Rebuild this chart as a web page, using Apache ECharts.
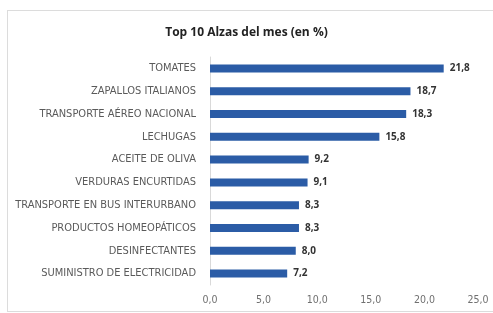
<!DOCTYPE html>
<html lang="es">
<head>
  <meta charset="UTF-8">
  <title>Top 10 Alzas del mes</title>
  <style>
    * { margin: 0; padding: 0; }
    body { width: 493px; height: 313px; background: #fff; overflow: hidden; position: relative; }
    #frame { position: absolute; left: 7px; top: 10px; width: 500px; height: 300px; border: 1px solid #dcdcdc; }
    #main { position: absolute; left: 0; top: 0; width: 493px; height: 313px; }
  </style>
</head>
<body>
  <div id="frame"></div>
  <div id="main"></div>
  <script src="https://cdn.jsdelivr.net/npm/echarts@6/dist/echarts.min.js"></script>
  <script>
    // datos del gráfico
    var categorias = ['TOMATES', 'ZAPALLOS ITALIANOS', 'TRANSPORTE AÉREO NACIONAL', 'LECHUGAS', 'ACEITE DE OLIVA',
      'VERDURAS ENCURTIDAS', 'TRANSPORTE EN BUS INTERURBANO', 'PRODUCTOS HOMEOPÁTICOS', 'DESINFECTANTES',
      'SUMINISTRO DE ELECTRICIDAD'];
    var valores = [21.8, 18.7, 18.3, 15.8, 9.2, 9.1, 8.3, 8.3, 8.0, 7.2];
    var ticksX = [0, 5, 10, 15, 20, 25];

    var fuente = "'Liberation Sans Narrow', 'DejaVu Sans Condensed', sans-serif";
    var coma = function (v) { return v.toFixed(1).replace('.', ','); };

    var myChart = echarts.init(document.getElementById('main'));
    var option = {
      title: {
        text: 'Top 10 Alzas del mes (en %)',
        left: 'center',
        top: 22,
        textStyle: { fontSize: 12, fontWeight: 'bold', color: '#222', fontFamily: "'Open Sans', sans-serif" }
      },
      grid: { left: 210, right: 15, top: 57, bottom: 28 },
      xAxis: {
        type: 'value',
        min: ticksX[0],
        max: ticksX[ticksX.length - 1],
        interval: 5,
        axisLine: { show: false },
        axisTick: { show: false },
        splitLine: { show: false },
        axisLabel: { margin: 10, fontSize: 10.5, color: '#707070', fontFamily: fuente, formatter: coma }
      },
      yAxis: {
        type: 'category',
        inverse: true,
        data: categorias,
        axisLine: { lineStyle: { color: '#d9d9d9' } },
        axisTick: { show: false },
        axisLabel: { margin: 14, fontSize: 11, color: '#5a5a5a', fontFamily: fuente }
      },
      series: [{
        type: 'bar',
        data: valores,
        barWidth: 8,
        itemStyle: { color: '#2b5ca6' },
        label: {
          show: true,
          position: 'right',
          distance: 6,
          fontSize: 10,
          fontWeight: 'bold',
          color: '#333',
          fontFamily: "'Open Sans', sans-serif",
          formatter: function (p) { return coma(p.value); }
        }
      }]
    };
    myChart.setOption(option);
  </script>
</body>
</html>
